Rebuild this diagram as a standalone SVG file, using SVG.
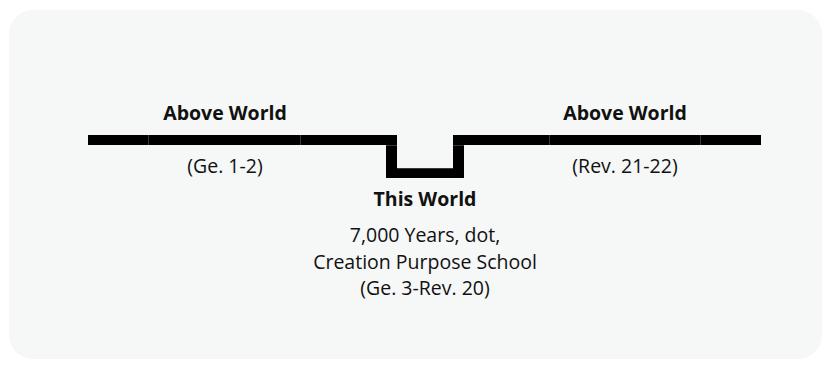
<svg xmlns="http://www.w3.org/2000/svg" width="832" height="369" viewBox="0 0 832 369">
  <style>
    .lbl { font-family: "Open Sans", "Noto Sans", sans-serif; fill: #111; text-anchor: middle; }
    .title { font-size: 19.5px; font-weight: 700; }
    .note { font-size: 19.5px; font-weight: 400; }
    .bar { fill: #000; }
    .seam { stroke: #3a3a3a; stroke-width: 1; }
  </style>
  <!-- card background -->
  <rect x="9" y="10" width="813" height="349" rx="24" ry="24" fill="#f6f7f7"/>

  <!-- timeline path: above world, dip into this world, above world -->
  <g id="connectors">
    <rect class="bar" x="88" y="135" width="309" height="10"/>
    <rect class="bar" x="386" y="135" width="11" height="43"/>
    <rect class="bar" x="386" y="168" width="78" height="10"/>
    <rect class="bar" x="453" y="135" width="11" height="43"/>
    <rect class="bar" x="453" y="135" width="308" height="10"/>
    <line class="seam" x1="148.5" y1="135" x2="148.5" y2="145"/>
    <line class="seam" x1="300.5" y1="135" x2="300.5" y2="145"/>
    <line class="seam" x1="549.5" y1="135" x2="549.5" y2="145"/>
    <line class="seam" x1="700.5" y1="135" x2="700.5" y2="145"/>
    <line class="seam" x1="386" y1="145.5" x2="397" y2="145.5"/>
    <line class="seam" x1="453" y1="145.5" x2="464" y2="145.5"/>
    <line class="seam" x1="397" y1="168.5" x2="453" y2="168.5"/>
  </g>

  <g id="above-world-left">
    <text class="lbl title" x="225" y="119.5">Above World</text>
    <text class="lbl note" x="225" y="173">(Ge. 1-2)</text>
  </g>

  <g id="this-world">
    <text class="lbl title" x="425" y="206">This World</text>
    <text class="lbl note" x="425" y="242">7,000 Years, dot,</text>
    <text class="lbl note" x="425" y="268.5">Creation Purpose School</text>
    <text class="lbl note" x="425" y="295">(Ge. 3-Rev. 20)</text>
  </g>

  <g id="above-world-right">
    <text class="lbl title" x="625" y="119.5">Above World</text>
    <text class="lbl note" x="625" y="173">(Rev. 21-22)</text>
  </g>
</svg>
